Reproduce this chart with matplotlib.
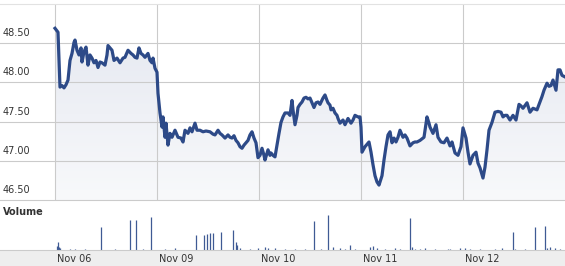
import matplotlib
matplotlib.use("Agg")
import matplotlib.pyplot as plt
import matplotlib.transforms as mtransforms
from matplotlib.colors import LinearSegmentedColormap
import numpy as np

# ---- data ----
# time axis: intraday bar index, 102 bars per trading day
day_labels = ["Nov 06", "Nov 09", "Nov 10", "Nov 11", "Nov 12"]
bars_per_day = 102

price_bar = [
    0, 3, 5, 7, 9, 11, 13, 15, 17, 19, 20, 22, 24, 26, 27, 29, 31, 33, 35, 37, 39, 41, 43, 45, 47, 50,
    52, 53, 55, 57, 59, 62, 65, 68, 70, 73, 76, 78, 80, 82, 84, 86, 88, 90, 93, 95, 97, 98, 100, 102,
    103, 105, 107, 108, 110, 111, 113, 115, 117, 120, 123, 126, 128, 130, 133, 135, 137, 140, 142, 145,
    148, 151, 155, 158, 160, 163, 165, 167, 170, 173, 175, 177, 179, 181, 183, 185, 187, 189, 191, 193,
    195, 197, 199, 201, 203,
    205, 207, 209, 210, 212, 213, 215, 216, 218, 220, 222, 224, 226, 228, 230, 233, 235, 237, 238, 240,
    242, 243, 245, 247, 249, 251, 253, 255, 257, 259, 261, 263, 265, 268, 270, 272, 273, 275, 276, 278,
    280, 282, 283, 285, 288, 290, 293, 296, 298, 300, 303, 305, 306,
    307, 310, 312, 314, 316, 318, 320, 322, 324, 327, 329, 331, 333, 335, 337, 339, 341, 343, 345, 348,
    350, 352, 355, 358, 360, 362, 365, 367, 369, 372, 374, 375, 378, 381, 383, 386, 389, 392, 395, 397,
    400, 403, 406,
    408, 411, 413, 415, 418, 421, 423, 425, 428, 430, 432, 434, 437, 440, 443, 446, 448, 450, 452, 455,
    458, 461, 464, 466, 468, 472, 475, 478, 482, 485, 487, 489, 492, 494, 496, 498, 501, 503, 505, 507, 510,
]
price = [
    48.69, 48.64, 47.94, 47.96, 47.93, 47.97, 48.03, 48.28, 48.37, 48.51, 48.54, 48.41, 48.35, 48.44,
    48.26, 48.39, 48.45, 48.22, 48.35, 48.31, 48.25, 48.28, 48.19, 48.26, 48.25, 48.22, 48.35, 48.47,
    48.44, 48.41, 48.28, 48.31, 48.25, 48.31, 48.32, 48.41, 48.37, 48.35, 48.32, 48.31, 48.44, 48.37,
    48.35, 48.32, 48.37, 48.28, 48.25, 48.31, 48.18, 48.13,
    47.86, 47.61, 47.43, 47.56, 47.30, 47.48, 47.20, 47.35, 47.30, 47.39, 47.30, 47.29, 47.24, 47.39,
    47.35, 47.42, 47.37, 47.48, 47.39, 47.39, 47.37, 47.38, 47.37, 47.34, 47.33, 47.39, 47.35, 47.33,
    47.29, 47.33, 47.30, 47.29, 47.32, 47.26, 47.23, 47.18, 47.16, 47.20, 47.23, 47.26, 47.33, 47.37,
    47.29, 47.23, 47.04,
    47.07, 47.16, 47.07, 47.01, 47.10, 47.14, 47.07, 47.10, 47.07, 47.05, 47.20, 47.35, 47.49, 47.56,
    47.61, 47.61, 47.58, 47.77, 47.65, 47.46, 47.58, 47.68, 47.72, 47.75, 47.80, 47.81, 47.79, 47.80,
    47.74, 47.68, 47.74, 47.75, 47.72, 47.80, 47.84, 47.77, 47.74, 47.71, 47.65, 47.67, 47.61, 47.58,
    47.54, 47.48, 47.52, 47.46, 47.54, 47.48, 47.52, 47.58, 47.56, 47.56, 47.43,
    47.11, 47.18, 47.21, 47.24, 47.11, 46.95, 46.81, 46.73, 46.69, 46.81, 47.01, 47.18, 47.33, 47.37,
    47.23, 47.29, 47.24, 47.30, 47.39, 47.30, 47.33, 47.29, 47.19, 47.23, 47.24, 47.24, 47.26, 47.28,
    47.30, 47.56, 47.48, 47.43, 47.35, 47.46, 47.30, 47.24, 47.23, 47.29, 47.19, 47.24, 47.10, 47.07,
    47.18,
    47.42, 47.29, 47.11, 46.96, 47.07, 47.11, 46.97, 46.91, 46.78, 46.92, 47.14, 47.39, 47.49, 47.62,
    47.63, 47.62, 47.56, 47.58, 47.58, 47.52, 47.58, 47.52, 47.72, 47.70, 47.67, 47.74, 47.62, 47.67,
    47.65, 47.75, 47.82, 47.90, 47.99, 47.95, 47.96, 48.03, 47.90, 48.16, 48.16, 48.09, 48.07,
]

vol_bar = [2, 3, 4, 5, 15, 20, 30, 46, 60, 75, 81, 88, 96, 110, 120, 141, 149, 152, 155, 158, 166,
           178, 181, 182, 185, 195, 203, 210, 213, 220, 230, 240, 250, 259, 266, 273, 278, 285, 290,
           295, 300, 315, 318, 322, 330, 340, 345, 355, 357, 360, 365, 370, 380, 393, 395, 405, 410,
           415, 425, 440, 447, 458, 460, 470, 480, 490, 492, 495, 500, 505]
vol_k = [40, 80, 30, 20, 10, 10, 10, 230, 10, 300, 300, 10, 330, 10, 20, 150, 150, 160, 170, 170, 180,
         200, 80, 50, 20, 10, 20, 30, 20, 20, 10, 10, 10, 290, 10, 350, 30, 20, 10,
         50, 10, 30, 40, 20, 10, 20, 10, 320, 30, 10, 10, 20, 10, 10, 10, 20, 20,
         10, 10, 10, 20, 180, 10, 10, 230, 240, 20, 30, 20, 10]

price_ticks = [46.50, 47.00, 47.50, 48.00, 48.50]

# ---- style ----
W, H = 565, 266
LINE = "#2d4a88"
GRID = "#cbcbcb"
TXT = "#333333"
plt.rcParams["font.family"] = ["DejaVu Sans"]

fig = plt.figure(figsize=(W / 100, H / 100), dpi=100)
fig.patch.set_facecolor("white")

def fy(px):
    return (H - px) / H

x_lo, x_hi = -55, 5 * bars_per_day
y_lo, y_hi = 46.5, 49.0

# bottom strip background
fig.patches.append(plt.Rectangle((0, 0), 1, fy(250), transform=fig.transFigure,
                                 facecolor="#eeeeee", edgecolor="none", zorder=-10))

# price axes
axp = fig.add_axes([0, fy(200), 1, fy(4) - fy(200)])
axp.set_xlim(x_lo, x_hi)
axp.set_ylim(y_lo, y_hi)
axp.set_facecolor("white")
for s in ["left", "right"]:
    axp.spines[s].set_visible(False)
axp.spines["top"].set_color("#e2e2e2")
axp.spines["bottom"].set_color(GRID)
axp.set_xticks([])
axp.set_yticks([])

pb = np.array(price_bar)
pp = np.array(price)

# gradient fill under the line
fill = axp.fill_between(pb, pp, y_lo, color="none", lw=0)
cmap = LinearSegmentedColormap.from_list("g", ["#f8f9fb", "#e6e9f1"])
grad = np.linspace(0, 1, 256).reshape(-1, 1)
im = axp.imshow(grad, extent=[pb.min(), pb.max(), y_lo, pp.max()], origin="lower",
                aspect="auto", cmap=cmap, zorder=1)
im.set_clip_path(fill.get_paths()[0], transform=axp.transData)

for v in price_ticks[1:]:
    axp.axhline(v, color=GRID, lw=0.8, zorder=2)
for d in range(len(day_labels)):
    axp.axvline(d * bars_per_day, color=GRID, lw=0.8, zorder=2)

axp.plot(pb, pp, color=LINE, lw=2.3, zorder=3, solid_joinstyle="round")
axp.set_xlim(x_lo, x_hi)
axp.set_ylim(y_lo, y_hi)

lab_tr = mtransforms.offset_copy(axp.transData, fig=fig, x=0, y=10, units="dots")
for v in price_ticks:
    axp.text(-52, v, f"{v:.2f}", transform=lab_tr, ha="left", va="center",
             fontsize=7, color=TXT)

# volume axes
axv = fig.add_axes([0, fy(250), 1, fy(200) - fy(250)])
axv.set_xlim(x_lo, x_hi)
axv.set_ylim(0, 500)
axv.patch.set_alpha(0)
for s in ["left", "right", "top"]:
    axv.spines[s].set_visible(False)
axv.spines["bottom"].set_color(GRID)
axv.set_yticks([])
axv.set_xticks(np.arange(len(day_labels)) * bars_per_day)
axv.set_xticklabels(day_labels, fontsize=7, color=TXT, ha="left")
axv.tick_params(axis="x", length=0, pad=3)
shift = mtransforms.ScaledTranslation(2 / 100, 0, fig.dpi_scale_trans)
for lbl in axv.get_xticklabels():
    lbl.set_transform(lbl.get_transform() + shift)
axv.vlines(vol_bar, 0, vol_k, color="#3f5a94", lw=0.9)

fig.text(3 / W, fy(212), "Volume", fontsize=7, fontweight="bold", color=TXT,
         ha="left", va="center")

fig.savefig("out.png", dpi=100)
